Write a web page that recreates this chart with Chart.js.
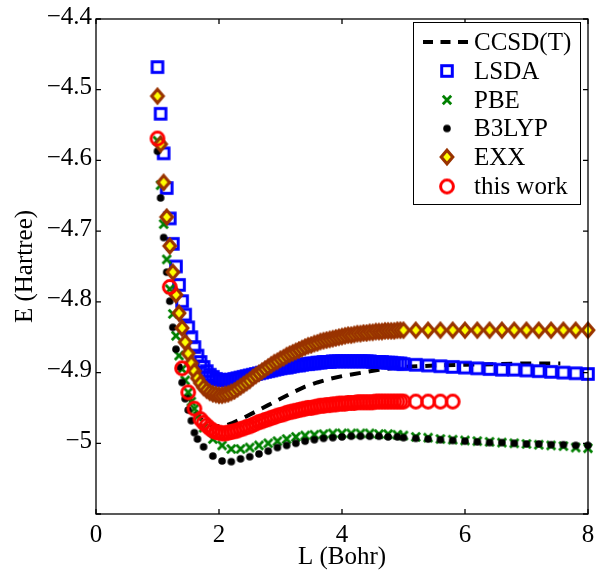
<!DOCTYPE html>
<html lang="en">
<head>
<meta charset="UTF-8">
<title>E (Hartree) vs L (Bohr)</title>
<script src="https://cdn.jsdelivr.net/npm/chart.js"></script>
<style>
  html, body { margin: 0; padding: 0; background: #fff; }
</style>
</head>
<body>
<canvas id="energyChart" width="604" height="570"></canvas>
<script>
// bond lengths (Bohr)
const denseL = [
  1.00, 1.05, 1.10, 1.15, 1.20, 1.25, 1.30, 1.35, 1.40, 1.45,
  1.50, 1.55, 1.60, 1.65, 1.70, 1.75, 1.80, 1.85, 1.90, 1.95,
  2.00, 2.05, 2.10, 2.15, 2.20, 2.25, 2.30, 2.35, 2.40, 2.45,
  2.50, 2.55, 2.60, 2.65, 2.70, 2.75, 2.80, 2.85, 2.90, 2.95,
  3.00, 3.05, 3.10, 3.15, 3.20, 3.25, 3.30, 3.35, 3.40, 3.45,
  3.50, 3.55, 3.60, 3.65, 3.70, 3.75, 3.80, 3.85, 3.90, 3.95,
  4.00, 4.05, 4.10, 4.15, 4.20, 4.25, 4.30, 4.35, 4.40, 4.45,
  4.50, 4.55, 4.60, 4.65, 4.70, 4.75, 4.80, 4.85, 4.90, 4.95,
  5.00
];
const coarseL = [
  1.00, 1.05, 1.10, 1.15, 1.20, 1.25, 1.30, 1.35, 1.40, 1.45,
  1.50, 1.55, 1.60, 1.65, 1.75, 1.90, 2.05, 2.20, 2.35, 2.50,
  2.65, 2.80, 2.95, 3.10, 3.25, 3.40, 3.55, 3.70, 3.85, 4.00,
  4.15, 4.30, 4.45, 4.60, 4.75, 4.90, 5.00
];
const tailL = [5.2, 5.4, 5.6, 5.8, 6.0, 6.2, 6.4, 6.6, 6.8, 7.0, 7.2, 7.4, 7.6, 7.8, 8.0];
const ccsdL = [1.5, 1.6, 1.7, 1.8, 1.9, 2.0, 2.1, 2.2, 2.4, 2.6, 2.8, 3.0, 3.2, 3.4,
  3.6, 3.8, 4.0, 4.2, 4.4, 4.6, 4.8, 5.0, 5.5, 6.0, 6.5, 7.0, 7.55];

// energies (Hartree)
const ccsdE = [-4.930, -4.952, -4.965, -4.972, -4.975, -4.976, -4.975, -4.972, -4.964, -4.955,
  -4.946, -4.937, -4.928, -4.920, -4.914, -4.909, -4.905, -4.902, -4.899, -4.896,
  -4.894, -4.892, -4.890, -4.889, -4.888, -4.887, -4.887];

const lsdaE = [
  -4.468, -4.534, -4.590, -4.639, -4.682, -4.718, -4.750, -4.776, -4.799, -4.818,
  -4.836, -4.850, -4.864, -4.876, -4.885, -4.892, -4.898, -4.903, -4.906, -4.909,
  -4.910, -4.911, -4.911, -4.911, -4.910, -4.909, -4.908, -4.907, -4.906, -4.905,
  -4.904, -4.903, -4.902, -4.901, -4.900, -4.899, -4.898, -4.897, -4.896, -4.895,
  -4.894, -4.893, -4.893, -4.892, -4.891, -4.890, -4.890, -4.889, -4.888, -4.888,
  -4.887, -4.887, -4.886, -4.886, -4.885, -4.885, -4.885, -4.884, -4.884, -4.884,
  -4.884, -4.884, -4.884, -4.884, -4.884, -4.884, -4.884, -4.884, -4.884, -4.884,
  -4.885, -4.885, -4.885, -4.885, -4.886, -4.886, -4.886, -4.887, -4.887, -4.887,
  -4.888
];
const lsdaTailE = [-4.889, -4.890, -4.891, -4.892, -4.893, -4.894, -4.895, -4.896,
  -4.896, -4.897, -4.898, -4.899, -4.900, -4.901, -4.902];

const pbeE = [
  -4.572, -4.635, -4.690, -4.740, -4.782, -4.817, -4.848, -4.876, -4.895, -4.911,
  -4.928, -4.941, -4.951, -4.962, -4.978, -4.994, -5.003, -5.008, -5.008, -5.006,
  -5.003, -5.000, -4.997, -4.994, -4.991, -4.989, -4.988, -4.987, -4.986, -4.986,
  -4.986, -4.986, -4.986, -4.987, -4.987, -4.988, -4.989
];
const pbeTailE = [-4.991, -4.992, -4.994, -4.995, -4.996, -4.997, -4.998, -4.999,
  -5.000, -5.001, -5.002, -5.003, -5.004, -5.006, -5.007];

const b3lypE = [
  -4.587, -4.653, -4.709, -4.758, -4.799, -4.836, -4.867, -4.892, -4.914, -4.937,
  -4.953, -4.968, -4.985, -4.994, -5.005, -5.018, -5.025, -5.026, -5.022, -5.019,
  -5.015, -5.011, -5.006, -5.003, -5.000, -4.997, -4.995, -4.993, -4.992, -4.991,
  -4.990, -4.990, -4.990, -4.990, -4.991, -4.991, -4.992
];
const b3lypTailE = [-4.993, -4.994, -4.995, -4.996, -4.997, -4.998, -4.999, -4.999,
  -5.000, -5.001, -5.001, -5.002, -5.002, -5.003, -5.003];

const exxE = [
  -4.509, -4.577, -4.631, -4.680, -4.721, -4.758, -4.790, -4.816, -4.837, -4.857,
  -4.873, -4.887, -4.898, -4.908, -4.915, -4.921, -4.925, -4.928, -4.930, -4.931,
  -4.932, -4.932, -4.931, -4.930, -4.928, -4.926, -4.923, -4.920, -4.917, -4.914,
  -4.911, -4.907, -4.904, -4.901, -4.898, -4.895, -4.892, -4.889, -4.886, -4.884,
  -4.881, -4.879, -4.876, -4.874, -4.872, -4.870, -4.868, -4.866, -4.864, -4.862,
  -4.861, -4.859, -4.858, -4.856, -4.855, -4.854, -4.853, -4.852, -4.851, -4.850,
  -4.849, -4.848, -4.847, -4.847, -4.846, -4.845, -4.845, -4.844, -4.844, -4.843,
  -4.843, -4.842, -4.842, -4.842, -4.841, -4.841, -4.841, -4.841, -4.840, -4.840,
  -4.840
];
const exxTailE = [-4.840, -4.840, -4.840, -4.840, -4.840, -4.840, -4.840, -4.840,
  -4.840, -4.840, -4.840, -4.840, -4.840, -4.840, -4.840];

// "this work": same grid as denseL, null where no point was computed
const workE = [
  -4.569, null, null, null, -4.779, null, null, null, -4.894, null,
  -4.928, null, -4.951, null, -4.966, -4.971, -4.975, -4.979, -4.982, -4.984,
  -4.985, -4.986, -4.986, -4.985, -4.984, -4.983, -4.982, -4.980, -4.979, -4.977,
  -4.976, -4.974, -4.972, -4.970, -4.969, -4.967, -4.966, -4.964, -4.963, -4.961,
  -4.960, -4.959, -4.957, -4.956, -4.955, -4.954, -4.953, -4.952, -4.951, -4.950,
  -4.950, -4.949, -4.948, -4.947, -4.947, -4.946, -4.946, -4.945, -4.945, -4.944,
  -4.944, -4.944, -4.943, -4.943, -4.943, -4.942, -4.942, -4.942, -4.942, -4.942,
  -4.942, -4.941, -4.941, -4.941, -4.941, -4.941, -4.941, -4.941, -4.941, -4.941,
  -4.941
];
const workTailE = [-4.941, -4.941, -4.941, -4.941];

// axes
const xTicks = [0, 2, 4, 6, 8];
const yTicks = [-5.1, -5.0, -4.9, -4.8, -4.7, -4.6, -4.5, -4.4];
const yTickLabels = ['', '\u22125', '\u22124.9', '\u22124.8', '\u22124.7', '\u22124.6', '\u22124.5', '\u22124.4'];

const FONT = '"Liberation Serif", "Times New Roman", Times, serif';

function pts(xs, ys) {
  return ys.map((y, i) => ({ x: xs[i], y: y })).filter(p => p.y !== null);
}

// marker glyphs, drawn once and reused for plot and legend
function marker(w, h, draw) {
  const c = document.createElement('canvas');
  c.width = w;
  c.height = h;
  draw(c.getContext('2d'));
  return c;
}
const squareMark = marker(18, 18, g => {
  g.strokeStyle = '#0000ff';
  g.lineWidth = 3;
  g.strokeRect(3.7, 3.7, 10.6, 10.6);
});
const crossMark = marker(14, 14, g => {
  g.strokeStyle = '#008000';
  g.lineWidth = 2.8;
  g.beginPath();
  g.moveTo(2.8, 2.8); g.lineTo(11.2, 11.2);
  g.moveTo(11.2, 2.8); g.lineTo(2.8, 11.2);
  g.stroke();
});
const dotMark = marker(10, 10, g => {
  g.fillStyle = '#000';
  g.beginPath();
  g.arc(5, 5, 3.8, 0, Math.PI * 2);
  g.fill();
});
const diamondMark = marker(20, 22, g => {
  g.beginPath();
  g.moveTo(10, 4.2); g.lineTo(15.8, 11); g.lineTo(10, 17.8); g.lineTo(4.2, 11);
  g.closePath();
  g.fillStyle = '#ffff00';
  g.fill();
  g.strokeStyle = '#993300';
  g.lineWidth = 3.1;
  g.stroke();
});
const circleMark = marker(20, 20, g => {
  g.strokeStyle = '#ff0000';
  g.lineWidth = 3;
  g.beginPath();
  g.arc(10, 10, 6.4, 0, Math.PI * 2);
  g.stroke();
});

const series = [
  { label: 'CCSD(T)', line: true },
  { label: 'LSDA', mark: squareMark },
  { label: 'PBE', mark: crossMark },
  { label: 'B3LYP', mark: dotMark },
  { label: 'EXX', mark: diamondMark },
  { label: 'this work', mark: circleMark }
];

function markerSet(label, data, mark, order) {
  return {
    label: label,
    data: data,
    pointStyle: mark,
    pointRadius: 7,
    pointHoverRadius: 7,
    showLine: false,
    clip: false,
    order: order
  };
}

// box, inward ticks on all four sides
const framePlugin = {
  id: 'frame',
  afterDatasetsDraw(chart) {
    const { ctx, chartArea: a, scales: { x, y } } = chart;
    const t = 5;
    ctx.save();
    ctx.strokeStyle = '#000';
    ctx.lineWidth = 1.3;
    ctx.strokeRect(a.left, a.top, a.right - a.left, a.bottom - a.top);
    ctx.beginPath();
    xTicks.forEach(v => {
      const px = x.getPixelForValue(v);
      ctx.moveTo(px, a.bottom); ctx.lineTo(px, a.bottom - t);
      ctx.moveTo(px, a.top); ctx.lineTo(px, a.top + t);
    });
    yTicks.forEach(v => {
      const py = y.getPixelForValue(v);
      ctx.moveTo(a.left, py); ctx.lineTo(a.left + t, py);
      ctx.moveTo(a.right, py); ctx.lineTo(a.right - t, py);
    });
    ctx.stroke();
    ctx.restore();
  }
};

// legend box in the upper right corner
const legendPlugin = {
  id: 'boxLegend',
  afterDraw(chart) {
    const ctx = chart.ctx;
    const box = { left: 413.5, top: 22.5, right: 580.5, bottom: 204.5 };
    const rowY = [42, 71, 100, 128.5, 157, 186.5];
    ctx.save();
    ctx.fillStyle = '#fff';
    ctx.fillRect(box.left, box.top, box.right - box.left, box.bottom - box.top);
    ctx.strokeStyle = '#000';
    ctx.lineWidth = 1;
    ctx.strokeRect(box.left, box.top, box.right - box.left, box.bottom - box.top);
    ctx.font = '25px ' + FONT;
    ctx.textBaseline = 'middle';
    ctx.textAlign = 'left';
    series.forEach((s, i) => {
      const yy = rowY[i];
      if (s.line) {
        ctx.beginPath();
        ctx.setLineDash([10, 7.5]);
        ctx.lineWidth = 4;
        ctx.moveTo(423, yy);
        ctx.lineTo(468, yy);
        ctx.stroke();
        ctx.setLineDash([]);
      } else {
        ctx.drawImage(s.mark, 447 - s.mark.width / 2, yy - s.mark.height / 2);
      }
      ctx.fillStyle = '#000';
      ctx.fillText(s.label, 474, yy + 1);
    });
    ctx.restore();
  }
};

function drawChart() {
  const ctx = document.getElementById('energyChart').getContext('2d');
  new Chart(ctx, {
    type: 'scatter',
    data: {
      datasets: [
        {
          label: 'CCSD(T)',
          data: pts(ccsdL, ccsdE),
          showLine: true,
          borderColor: '#000',
          borderWidth: 4,
          borderDash: [11, 8],
          pointRadius: 0,
          fill: false,
          order: 6
        },
        markerSet('LSDA', pts(denseL.concat(tailL), lsdaE.concat(lsdaTailE)), squareMark, 5),
        markerSet('PBE', pts(coarseL.concat(tailL), pbeE.concat(pbeTailE)), crossMark, 4),
        markerSet('B3LYP', pts(coarseL.concat(tailL), b3lypE.concat(b3lypTailE)), dotMark, 3),
        markerSet('EXX', pts(denseL.concat(tailL), exxE.concat(exxTailE)), diamondMark, 2),
        markerSet('this work', pts(denseL.concat(tailL), workE.concat(workTailE)), circleMark, 1)
      ]
    },
    options: {
      responsive: false,
      animation: false,
      layout: { padding: { top: 15, right: 16, bottom: 0, left: 0 } },
      plugins: {
        legend: { display: false },
        tooltip: { enabled: false }
      },
      scales: {
        x: {
          type: 'linear',
          min: 0,
          max: 8,
          afterFit: s => { s.height = 56; },
          afterBuildTicks: s => { s.ticks = xTicks.map(v => ({ value: v })); },
          grid: { display: false, drawTicks: false },
          border: { display: false },
          ticks: {
            padding: 6,
            color: '#000',
            autoSkip: false,
            maxRotation: 0,
            font: { family: FONT, size: 25 },
            callback: v => String(v)
          },
          title: {
            display: true,
            text: 'L (Bohr)',
            color: '#000',
            font: { family: FONT, size: 25, lineHeight: 1 },
            padding: { top: 0, bottom: 0 }
          }
        },
        y: {
          type: 'linear',
          min: -5.1,
          max: -4.4,
          afterFit: s => { s.width = 96; },
          afterBuildTicks: s => { s.ticks = yTicks.map(v => ({ value: v })); },
          grid: { display: false, drawTicks: false },
          border: { display: false },
          ticks: {
            padding: 4,
            labelOffset: -2,
            color: '#000',
            autoSkip: false,
            font: { family: FONT, size: 25 },
            callback: (v, i) => yTickLabels[i]
          },
          title: {
            display: true,
            text: 'E (Hartree)',
            color: '#000',
            font: { family: FONT, size: 25, lineHeight: 1 },
            padding: { top: 13, bottom: 0 }
          }
        }
      }
    },
    plugins: [framePlugin, legendPlugin]
  });
}

if (document.fonts && document.fonts.load) {
  document.fonts.load('25px "Liberation Serif"').then(drawChart, drawChart);
} else {
  drawChart();
}
</script>
</body>
</html>
